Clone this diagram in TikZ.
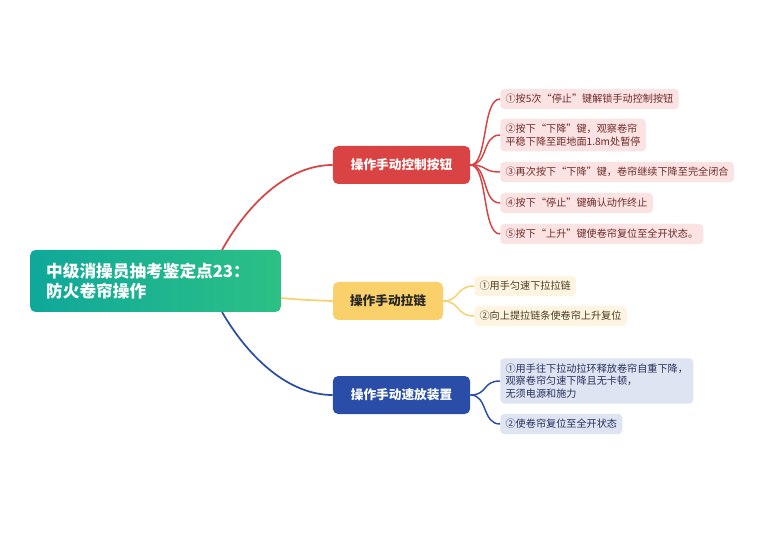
\documentclass[tikz,border=0pt]{standalone}
\usepackage{fontspec}
\setmainfont{Noto Sans CJK SC}
\usetikzlibrary{positioning}
\definecolor{redmain}{HTML}{D94343}
\definecolor{redleaf}{HTML}{FBE3E3}
\definecolor{redtext}{HTML}{6E2A2A}
\definecolor{yelmain}{HTML}{F9D06A}
\definecolor{yelleaf}{HTML}{FDF5E2}
\definecolor{yeltext}{HTML}{4A3A1A}
\definecolor{blumain}{HTML}{2A4EA8}
\definecolor{bluleaf}{HTML}{DFE4F2}
\definecolor{blutext}{HTML}{25305A}
\definecolor{rootl}{HTML}{0FA89A}
\definecolor{rootr}{HTML}{2CC085}
\tikzset{
  branch/.style={rounded corners=4pt, minimum height=28.5pt, font=\fontsize{9.5}{11}\selectfont\bfseries, text centered},
  leaf/.style={rounded corners=3pt, anchor=west, align=left, inner xsep=4pt, inner ysep=4pt, font=\fontsize{7.6}{9.4}\selectfont},
  link/.style={line width=1.3pt}
}
\begin{document}
\begin{tikzpicture}[x=0.75pt, y=-0.75pt]
\useasboundingbox (0,0) rectangle (771,552);
% root
\node[rounded corners=4pt, left color=rootl, right color=rootr, minimum width=188pt, minimum height=46.5pt,
  text=white, align=left, font=\fontsize{12.5}{15}\selectfont\bfseries, text width=164pt] (root) at (155.5,281)
  {中级消操员抽考鉴定点23：\\防火卷帘操作};
% branches
\node[branch, fill=redmain, text=white, minimum width=103pt] (hand) at (401.5,165) {操作手动控制按钮};
\node[branch, fill=yelmain, text=black!85, minimum width=82.5pt] (zip) at (388,301) {操作手动拉链};
\node[branch, fill=blumain, text=white, minimum width=103pt] (fast) at (401.5,395) {操作手动速放装置};
\coordinate (rtop) at (222,250);
\coordinate (rmid) at (281,298);
\coordinate (rbot) at (222,312);
\draw[link, redmain] (rtop) .. controls (250,200) and (290,165) .. (hand.west);
\draw[link, yelmain] (rmid) .. controls (305,300) .. (zip.west);
\draw[link, blumain] (rbot) .. controls (250,360) and (290,395) .. (fast.west);
% red leaves
\foreach \n/\y/\t in {1/99/{①按5次“停止”键解锁手动控制按钮},
  2/135/{②按下“下降”键，观察卷帘\\平稳下降至距地面1.8m处暂停},
  3/172/{③再次按下“下降”键，卷帘继续下降至完全闭合},
  4/203/{④按下“停止”键确认动作终止},
  5/234/{⑤按下“上升”键使卷帘复位至全开状态。}}{
  \node[leaf, fill=redleaf, text=redtext] (h\n) at (500,\y) {\t};
  \draw[link, redmain, line width=1.1pt] (hand.east) .. controls (488,165) and (482,\y) .. (h\n.west);
}
% yellow leaves
\foreach \n/\y/\t in {1/286/{①用手匀速下拉拉链}, 2/316/{②向上提拉链条使卷帘上升复位}}{
  \node[leaf, fill=yelleaf, text=yeltext] (z\n) at (474,\y) {\t};
  \draw[link, yelmain, line width=1.1pt] (zip.east) .. controls (460,301) and (456,\y) .. (z\n.west);
}
% blue leaves
\foreach \n/\y/\t in {1/381/{①用手往下拉动拉环释放卷帘自重下降，\\观察卷帘匀速下降且无卡顿，\\无须电源和施力}, 2/424/{②使卷帘复位至全开状态}}{
  \node[leaf, fill=bluleaf, text=blutext] (f\n) at (500,\y) {\t};
  \draw[link, blumain, line width=1.1pt] (fast.east) .. controls (488,395) and (482,\y) .. (f\n.west);
}
\end{tikzpicture}
\end{document}
